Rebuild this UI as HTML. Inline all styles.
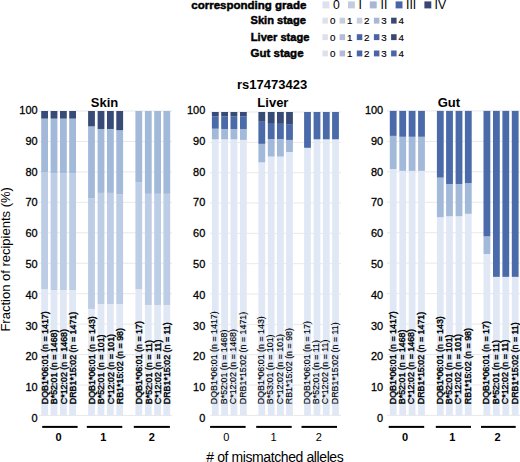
<!DOCTYPE html>
<html><head><meta charset="utf-8"><style>
html,body{margin:0;padding:0;background:#fff;}
svg{display:block;}
text{font-family:"Liberation Sans",sans-serif;fill:#000;}
.xl{font-size:9.6px;stroke:#000;stroke-width:0.4px;}
.yl{font-size:11.8px;stroke:#000;stroke-width:0.3px;}
.tt{font-size:13px;font-weight:bold;}
.gl{font-size:11px;}
.lg{font-size:11.1px;font-weight:bold;stroke:#000;stroke-width:0.45px;}
.lgn{font-size:12.2px;}
.lgd{font-size:9.8px;stroke:#000;stroke-width:0.15px;}
</style></head><body>
<svg width="520" height="462" viewBox="0 0 520 462">
<rect width="520" height="462" fill="#fff"/>
<text class="lg" x="191.3" y="9.3" style="font-size:11.5px">corresponding grade</text>
<text class="lg" x="250.5" y="24.3">Skin stage</text>
<text class="lg" x="250.8" y="40.9">Liver stage</text>
<text class="lg" x="250.5" y="56.9" style="font-size:11.5px">Gut stage</text>
<rect x="322.5" y="1.4" width="6.9" height="7" fill="#dde1eb"/>
<text class="lgn" x="333.0" y="8.9">0</text>
<rect x="348.0" y="1.4" width="6.9" height="7" fill="#c4cde0"/>
<text class="lgn" x="358.4" y="8.9">I</text>
<rect x="369.8" y="1.4" width="6.9" height="7" fill="#a9b7d5"/>
<text class="lgn" x="380.6" y="8.9">II</text>
<rect x="395.6" y="1.4" width="6.9" height="7" fill="#4b64a7"/>
<text class="lgn" x="406.0" y="8.9">III</text>
<rect x="424.4" y="1.4" width="6.9" height="7" fill="#3a4774"/>
<text class="lgn" x="434.6" y="8.9">IV</text>
<rect x="322.4" y="17.7" width="5.5" height="5.9" fill="#dde1eb"/>
<text class="lgd" x="329.9" y="24.1">0</text>
<rect x="339.6" y="17.7" width="5.5" height="5.9" fill="#c6cddd"/>
<text class="lgd" x="347.0" y="24.1">1</text>
<rect x="356.8" y="17.7" width="5.5" height="5.9" fill="#c8cfe0"/>
<text class="lgd" x="364.1" y="24.1">2</text>
<rect x="373.9" y="17.7" width="5.5" height="5.9" fill="#a9b7d5"/>
<text class="lgd" x="381.3" y="24.1">3</text>
<rect x="391.1" y="17.7" width="5.5" height="5.9" fill="#3a4774"/>
<text class="lgd" x="398.4" y="24.1">4</text>
<rect x="322.4" y="34.2" width="5.5" height="5.9" fill="#dde1eb"/>
<text class="lgd" x="329.9" y="40.6">0</text>
<rect x="339.6" y="34.2" width="5.5" height="5.9" fill="#b4bdd6"/>
<text class="lgd" x="347.0" y="40.6">1</text>
<rect x="356.8" y="34.2" width="5.5" height="5.9" fill="#4b64a7"/>
<text class="lgd" x="364.1" y="40.6">2</text>
<rect x="373.9" y="34.2" width="5.5" height="5.9" fill="#4b64a7"/>
<text class="lgd" x="381.3" y="40.6">3</text>
<rect x="391.1" y="34.2" width="5.5" height="5.9" fill="#3a4774"/>
<text class="lgd" x="398.4" y="40.6">4</text>
<rect x="322.4" y="50.5" width="5.5" height="5.9" fill="#dde1eb"/>
<text class="lgd" x="329.9" y="56.9">0</text>
<rect x="339.6" y="50.5" width="5.5" height="5.9" fill="#b0bcd9"/>
<text class="lgd" x="347.0" y="56.9">1</text>
<rect x="356.8" y="50.5" width="5.5" height="5.9" fill="#4b64a7"/>
<text class="lgd" x="364.1" y="56.9">2</text>
<rect x="373.9" y="50.5" width="5.5" height="5.9" fill="#4b64a7"/>
<text class="lgd" x="381.3" y="56.9">3</text>
<rect x="391.1" y="50.5" width="5.5" height="5.9" fill="#4b64a7"/>
<text class="lgd" x="398.4" y="56.9">4</text>
<text class="tt" x="272.1" y="88.7" text-anchor="middle">rs17473423</text>
<rect x="39" y="415.00" width="133" height="1" fill="#eae8e8"/>
<rect x="39" y="384.55" width="133" height="1" fill="#eae8e8"/>
<rect x="39" y="354.10" width="133" height="1" fill="#eae8e8"/>
<rect x="39" y="323.65" width="133" height="1" fill="#eae8e8"/>
<rect x="39" y="293.20" width="133" height="1" fill="#eae8e8"/>
<rect x="39" y="262.75" width="133" height="1" fill="#eae8e8"/>
<rect x="39" y="232.30" width="133" height="1" fill="#eae8e8"/>
<rect x="39" y="201.85" width="133" height="1" fill="#eae8e8"/>
<rect x="39" y="171.40" width="133" height="1" fill="#eae8e8"/>
<rect x="39" y="140.95" width="133" height="1" fill="#eae8e8"/>
<rect x="39" y="110.50" width="133" height="1" fill="#eae8e8"/>
<rect x="41.2" y="289.13" width="6.8" height="126.37" fill="#e1e8f5"/>
<rect x="41.2" y="172.51" width="6.8" height="116.62" fill="#bdcde5"/>
<rect x="41.2" y="118.61" width="6.8" height="53.90" fill="#a3b9da"/>
<rect x="41.2" y="111.00" width="6.8" height="7.61" fill="#384b78"/>
<rect x="50.6" y="290.05" width="6.8" height="125.45" fill="#e1e8f5"/>
<rect x="50.6" y="173.42" width="6.8" height="116.62" fill="#bdcde5"/>
<rect x="50.6" y="118.61" width="6.8" height="54.81" fill="#a3b9da"/>
<rect x="50.6" y="111.00" width="6.8" height="7.61" fill="#384b78"/>
<rect x="60.0" y="290.05" width="6.8" height="125.45" fill="#e1e8f5"/>
<rect x="60.0" y="173.42" width="6.8" height="116.62" fill="#bdcde5"/>
<rect x="60.0" y="118.61" width="6.8" height="54.81" fill="#a3b9da"/>
<rect x="60.0" y="111.00" width="6.8" height="7.61" fill="#384b78"/>
<rect x="69.2" y="290.05" width="6.8" height="125.45" fill="#e1e8f5"/>
<rect x="69.2" y="173.42" width="6.8" height="116.62" fill="#bdcde5"/>
<rect x="69.2" y="118.61" width="6.8" height="54.81" fill="#a3b9da"/>
<rect x="69.2" y="111.00" width="6.8" height="7.61" fill="#384b78"/>
<rect x="88.1" y="308.93" width="6.8" height="106.57" fill="#e1e8f5"/>
<rect x="88.1" y="198.39" width="6.8" height="110.53" fill="#bdcde5"/>
<rect x="88.1" y="126.38" width="6.8" height="72.01" fill="#a3b9da"/>
<rect x="88.1" y="111.00" width="6.8" height="15.38" fill="#384b78"/>
<rect x="97.6" y="304.05" width="6.8" height="111.45" fill="#e1e8f5"/>
<rect x="97.6" y="192.91" width="6.8" height="111.14" fill="#bdcde5"/>
<rect x="97.6" y="128.97" width="6.8" height="63.94" fill="#a3b9da"/>
<rect x="97.6" y="111.00" width="6.8" height="17.97" fill="#384b78"/>
<rect x="107.0" y="304.05" width="6.8" height="111.45" fill="#e1e8f5"/>
<rect x="107.0" y="192.91" width="6.8" height="111.14" fill="#bdcde5"/>
<rect x="107.0" y="128.97" width="6.8" height="63.94" fill="#a3b9da"/>
<rect x="107.0" y="111.00" width="6.8" height="17.97" fill="#384b78"/>
<rect x="116.3" y="304.05" width="6.8" height="111.45" fill="#e1e8f5"/>
<rect x="116.3" y="194.43" width="6.8" height="109.62" fill="#bdcde5"/>
<rect x="116.3" y="130.18" width="6.8" height="64.25" fill="#a3b9da"/>
<rect x="116.3" y="111.00" width="6.8" height="19.18" fill="#384b78"/>
<rect x="135.4" y="289.13" width="6.8" height="126.37" fill="#e1e8f5"/>
<rect x="135.4" y="182.25" width="6.8" height="106.88" fill="#bdcde5"/>
<rect x="135.4" y="111.00" width="6.8" height="71.25" fill="#a3b9da"/>
<rect x="144.9" y="304.97" width="6.8" height="110.53" fill="#e1e8f5"/>
<rect x="144.9" y="193.82" width="6.8" height="111.14" fill="#bdcde5"/>
<rect x="144.9" y="111.00" width="6.8" height="82.82" fill="#a3b9da"/>
<rect x="154.2" y="304.97" width="6.8" height="110.53" fill="#e1e8f5"/>
<rect x="154.2" y="193.82" width="6.8" height="111.14" fill="#bdcde5"/>
<rect x="154.2" y="111.00" width="6.8" height="82.82" fill="#a3b9da"/>
<rect x="163.4" y="304.97" width="6.8" height="110.53" fill="#e1e8f5"/>
<rect x="163.4" y="193.82" width="6.8" height="111.14" fill="#bdcde5"/>
<rect x="163.4" y="111.00" width="6.8" height="82.82" fill="#a3b9da"/>
<text class="xl" style="stroke-width:0.4px" transform="translate(48.05,404.2) rotate(-90) scale(0.925,1)">DQB1*06:01 (n = 1417)</text>
<text class="xl" style="stroke-width:0.4px" transform="translate(57.45,404.2) rotate(-90) scale(0.925,1)">B*52:01 (n = 1468)</text>
<text class="xl" style="stroke-width:0.4px" transform="translate(66.85,404.2) rotate(-90) scale(0.925,1)">C*12:02 (n = 1468)</text>
<text class="xl" style="stroke-width:0.4px" transform="translate(76.05,404.2) rotate(-90) scale(0.925,1)">DRB1*15:02 (n = 1471)</text>
<text class="xl" style="stroke-width:0.4px" transform="translate(94.95,404.2) rotate(-90) scale(0.925,1)">DQB1*06:01 (n = 143)</text>
<text class="xl" style="stroke-width:0.4px" transform="translate(104.45,404.2) rotate(-90) scale(0.925,1)">B*52:01 (n = 101)</text>
<text class="xl" style="stroke-width:0.4px" transform="translate(113.85,404.2) rotate(-90) scale(0.925,1)">C*12:02 (n = 101)</text>
<text class="xl" style="stroke-width:0.4px" transform="translate(123.15,404.2) rotate(-90) scale(0.925,1)">RB1*15:02 (n = 98)</text>
<text class="xl" style="stroke-width:0.4px" transform="translate(142.25,404.2) rotate(-90) scale(0.925,1)">DQB1*06:01 (n = 17)</text>
<text class="xl" style="stroke-width:0.4px" transform="translate(151.75,404.2) rotate(-90) scale(0.925,1)">B*52:01 (n = 11)</text>
<text class="xl" style="stroke-width:0.4px" transform="translate(161.05,404.2) rotate(-90) scale(0.925,1)">C*12:02 (n = 11)</text>
<text class="xl" style="stroke-width:0.4px" transform="translate(170.25,404.2) rotate(-90) scale(0.925,1)">DRB1*15:02 (n = 11)</text>
<text class="yl" transform="translate(37.6,422.10) scale(0.93,1)" text-anchor="end">0</text>
<text class="yl" transform="translate(37.6,391.28) scale(0.93,1)" text-anchor="end">10</text>
<text class="yl" transform="translate(37.6,360.45) scale(0.93,1)" text-anchor="end">20</text>
<text class="yl" transform="translate(37.6,329.62) scale(0.93,1)" text-anchor="end">30</text>
<text class="yl" transform="translate(37.6,298.80) scale(0.93,1)" text-anchor="end">40</text>
<text class="yl" transform="translate(37.6,267.98) scale(0.93,1)" text-anchor="end">50</text>
<text class="yl" transform="translate(37.6,237.15) scale(0.93,1)" text-anchor="end">60</text>
<text class="yl" transform="translate(37.6,206.32) scale(0.93,1)" text-anchor="end">70</text>
<text class="yl" transform="translate(37.6,175.50) scale(0.93,1)" text-anchor="end">80</text>
<text class="yl" transform="translate(37.6,144.67) scale(0.93,1)" text-anchor="end">90</text>
<text class="yl" transform="translate(37.6,113.85) scale(0.93,1)" text-anchor="end">100</text>
<text class="tt" x="104.6" y="107.1" text-anchor="middle">Skin</text>
<rect x="42.2" y="425.9" width="35.39999999999999" height="2" fill="#000"/>
<text class="gl" style="font-weight:bold" x="58.6" y="440.9" text-anchor="middle">0</text>
<rect x="86.8" y="425.9" width="35.5" height="2" fill="#000"/>
<text class="gl" style="font-weight:bold" x="103.4" y="440.9" text-anchor="middle">1</text>
<rect x="133.8" y="425.9" width="36.099999999999994" height="2" fill="#000"/>
<text class="gl" style="font-weight:bold" x="151.7" y="440.9" text-anchor="middle">2</text>
<rect x="210" y="414.90" width="131" height="1" fill="#eae8e8"/>
<rect x="210" y="384.56" width="131" height="1" fill="#eae8e8"/>
<rect x="210" y="354.22" width="131" height="1" fill="#eae8e8"/>
<rect x="210" y="323.88" width="131" height="1" fill="#eae8e8"/>
<rect x="210" y="293.54" width="131" height="1" fill="#eae8e8"/>
<rect x="210" y="263.20" width="131" height="1" fill="#eae8e8"/>
<rect x="210" y="232.86" width="131" height="1" fill="#eae8e8"/>
<rect x="210" y="202.52" width="131" height="1" fill="#eae8e8"/>
<rect x="210" y="172.18" width="131" height="1" fill="#eae8e8"/>
<rect x="210" y="141.84" width="131" height="1" fill="#eae8e8"/>
<rect x="210" y="111.50" width="131" height="1" fill="#eae8e8"/>
<rect x="211.9" y="139.31" width="6.8" height="276.09" fill="#e1e8f5"/>
<rect x="211.9" y="128.69" width="6.8" height="10.62" fill="#a3b9da"/>
<rect x="211.9" y="116.25" width="6.8" height="12.44" fill="#4a6aa9"/>
<rect x="211.9" y="112.00" width="6.8" height="4.25" fill="#384b78"/>
<rect x="221.2" y="139.31" width="6.8" height="276.09" fill="#e1e8f5"/>
<rect x="221.2" y="128.99" width="6.8" height="10.32" fill="#a3b9da"/>
<rect x="221.2" y="116.55" width="6.8" height="12.44" fill="#4a6aa9"/>
<rect x="221.2" y="112.00" width="6.8" height="4.55" fill="#384b78"/>
<rect x="230.5" y="139.31" width="6.8" height="276.09" fill="#e1e8f5"/>
<rect x="230.5" y="128.99" width="6.8" height="10.32" fill="#a3b9da"/>
<rect x="230.5" y="116.55" width="6.8" height="12.44" fill="#4a6aa9"/>
<rect x="230.5" y="112.00" width="6.8" height="4.55" fill="#384b78"/>
<rect x="240.0" y="139.91" width="6.8" height="275.49" fill="#e1e8f5"/>
<rect x="240.0" y="128.99" width="6.8" height="10.92" fill="#a3b9da"/>
<rect x="240.0" y="116.55" width="6.8" height="12.44" fill="#4a6aa9"/>
<rect x="240.0" y="112.00" width="6.8" height="4.55" fill="#384b78"/>
<rect x="258.4" y="162.36" width="6.8" height="253.04" fill="#e1e8f5"/>
<rect x="258.4" y="143.86" width="6.8" height="18.51" fill="#a3b9da"/>
<rect x="258.4" y="121.71" width="6.8" height="22.15" fill="#4a6aa9"/>
<rect x="258.4" y="112.00" width="6.8" height="9.71" fill="#384b78"/>
<rect x="267.8" y="156.60" width="6.8" height="258.80" fill="#e1e8f5"/>
<rect x="267.8" y="139.00" width="6.8" height="17.60" fill="#a3b9da"/>
<rect x="267.8" y="123.83" width="6.8" height="15.17" fill="#4a6aa9"/>
<rect x="267.8" y="112.00" width="6.8" height="11.83" fill="#384b78"/>
<rect x="277.0" y="156.60" width="6.8" height="258.80" fill="#e1e8f5"/>
<rect x="277.0" y="139.00" width="6.8" height="17.60" fill="#a3b9da"/>
<rect x="277.0" y="123.83" width="6.8" height="15.17" fill="#4a6aa9"/>
<rect x="277.0" y="112.00" width="6.8" height="11.83" fill="#384b78"/>
<rect x="286.1" y="152.05" width="6.8" height="263.35" fill="#e1e8f5"/>
<rect x="286.1" y="139.91" width="6.8" height="12.14" fill="#a3b9da"/>
<rect x="286.1" y="124.14" width="6.8" height="15.78" fill="#4a6aa9"/>
<rect x="286.1" y="112.00" width="6.8" height="12.14" fill="#384b78"/>
<rect x="304.1" y="147.80" width="6.8" height="267.60" fill="#e1e8f5"/>
<rect x="304.1" y="112.00" width="6.8" height="35.80" fill="#4a6aa9"/>
<rect x="313.6" y="139.31" width="6.8" height="276.09" fill="#e1e8f5"/>
<rect x="313.6" y="112.00" width="6.8" height="27.31" fill="#4a6aa9"/>
<rect x="322.9" y="139.31" width="6.8" height="276.09" fill="#e1e8f5"/>
<rect x="322.9" y="112.00" width="6.8" height="27.31" fill="#4a6aa9"/>
<rect x="332.1" y="139.31" width="6.8" height="276.09" fill="#e1e8f5"/>
<rect x="332.1" y="112.00" width="6.8" height="27.31" fill="#4a6aa9"/>
<text class="xl" style="stroke-width:0.15px" transform="translate(217.45,404.2) rotate(-90) scale(0.925,1)">DQB1*06:01 (n = 1417)</text>
<text class="xl" style="stroke-width:0.15px" transform="translate(226.75,404.2) rotate(-90) scale(0.925,1)">B*52:01 (n = 1468)</text>
<text class="xl" style="stroke-width:0.15px" transform="translate(236.05,404.2) rotate(-90) scale(0.925,1)">C*12:02 (n = 1468)</text>
<text class="xl" style="stroke-width:0.15px" transform="translate(245.55,404.2) rotate(-90) scale(0.925,1)">DRB1*15:02 (n = 1471)</text>
<text class="xl" style="stroke-width:0.15px" transform="translate(263.95,404.2) rotate(-90) scale(0.925,1)">DQB1*06:01 (n = 143)</text>
<text class="xl" style="stroke-width:0.15px" transform="translate(273.35,404.2) rotate(-90) scale(0.925,1)">B*53:01 (n = 101)</text>
<text class="xl" style="stroke-width:0.15px" transform="translate(282.55,404.2) rotate(-90) scale(0.925,1)">C*12:02 (n = 101)</text>
<text class="xl" style="stroke-width:0.15px" transform="translate(291.65,404.2) rotate(-90) scale(0.925,1)">RB1*15:02 (n = 98)</text>
<text class="xl" style="stroke-width:0.15px" transform="translate(309.65,404.2) rotate(-90) scale(0.925,1)">DQB1*06:01 (n = 17)</text>
<text class="xl" style="stroke-width:0.15px" transform="translate(319.15,404.2) rotate(-90) scale(0.925,1)">B*52:01 (n = 11)</text>
<text class="xl" style="stroke-width:0.15px" transform="translate(328.45,404.2) rotate(-90) scale(0.925,1)">C*12:02 (n = 11)</text>
<text class="xl" style="stroke-width:0.15px" transform="translate(337.65,404.2) rotate(-90) scale(0.925,1)">DRB1*15:02 (n = 11)</text>
<text class="yl" transform="translate(205.3,422.10) scale(0.93,1)" text-anchor="end">0</text>
<text class="yl" transform="translate(205.3,391.28) scale(0.93,1)" text-anchor="end">10</text>
<text class="yl" transform="translate(205.3,360.45) scale(0.93,1)" text-anchor="end">20</text>
<text class="yl" transform="translate(205.3,329.62) scale(0.93,1)" text-anchor="end">30</text>
<text class="yl" transform="translate(205.3,298.80) scale(0.93,1)" text-anchor="end">40</text>
<text class="yl" transform="translate(205.3,267.98) scale(0.93,1)" text-anchor="end">50</text>
<text class="yl" transform="translate(205.3,237.15) scale(0.93,1)" text-anchor="end">60</text>
<text class="yl" transform="translate(205.3,206.32) scale(0.93,1)" text-anchor="end">70</text>
<text class="yl" transform="translate(205.3,175.50) scale(0.93,1)" text-anchor="end">80</text>
<text class="yl" transform="translate(205.3,144.67) scale(0.93,1)" text-anchor="end">90</text>
<text class="yl" transform="translate(205.3,113.85) scale(0.93,1)" text-anchor="end">100</text>
<text class="tt" x="272.9" y="107.1" text-anchor="middle">Liver</text>
<rect x="210.1" y="425.9" width="35.5" height="2" fill="#000"/>
<text class="gl" style="font-weight:normal" x="226.4" y="440.9" text-anchor="middle">0</text>
<rect x="256.2" y="425.9" width="35.5" height="2" fill="#000"/>
<text class="gl" style="font-weight:normal" x="273.5" y="440.9" text-anchor="middle">1</text>
<rect x="301.5" y="425.9" width="35.5" height="2" fill="#000"/>
<text class="gl" style="font-weight:normal" x="318.8" y="440.9" text-anchor="middle">2</text>
<rect x="387" y="414.90" width="133" height="1" fill="#eae8e8"/>
<rect x="387" y="384.45" width="133" height="1" fill="#eae8e8"/>
<rect x="387" y="354.00" width="133" height="1" fill="#eae8e8"/>
<rect x="387" y="323.55" width="133" height="1" fill="#eae8e8"/>
<rect x="387" y="293.10" width="133" height="1" fill="#eae8e8"/>
<rect x="387" y="262.65" width="133" height="1" fill="#eae8e8"/>
<rect x="387" y="232.20" width="133" height="1" fill="#eae8e8"/>
<rect x="387" y="201.75" width="133" height="1" fill="#eae8e8"/>
<rect x="387" y="171.30" width="133" height="1" fill="#eae8e8"/>
<rect x="387" y="140.85" width="133" height="1" fill="#eae8e8"/>
<rect x="387" y="110.40" width="133" height="1" fill="#eae8e8"/>
<rect x="389.8" y="169.06" width="6.8" height="246.34" fill="#e1e8f5"/>
<rect x="389.8" y="135.87" width="6.8" height="33.19" fill="#a3b9da"/>
<rect x="389.8" y="110.90" width="6.8" height="24.97" fill="#4a6aa9"/>
<rect x="399.3" y="170.89" width="6.8" height="244.51" fill="#e1e8f5"/>
<rect x="399.3" y="136.78" width="6.8" height="34.10" fill="#a3b9da"/>
<rect x="399.3" y="110.90" width="6.8" height="25.88" fill="#4a6aa9"/>
<rect x="408.7" y="170.89" width="6.8" height="244.51" fill="#e1e8f5"/>
<rect x="408.7" y="136.78" width="6.8" height="34.10" fill="#a3b9da"/>
<rect x="408.7" y="110.90" width="6.8" height="25.88" fill="#4a6aa9"/>
<rect x="418.1" y="170.89" width="6.8" height="244.51" fill="#e1e8f5"/>
<rect x="418.1" y="136.78" width="6.8" height="34.10" fill="#a3b9da"/>
<rect x="418.1" y="110.90" width="6.8" height="25.88" fill="#4a6aa9"/>
<rect x="436.9" y="217.17" width="6.8" height="198.23" fill="#e1e8f5"/>
<rect x="436.9" y="177.59" width="6.8" height="39.59" fill="#a3b9da"/>
<rect x="436.9" y="110.90" width="6.8" height="66.69" fill="#4a6aa9"/>
<rect x="446.1" y="216.26" width="6.8" height="199.14" fill="#e1e8f5"/>
<rect x="446.1" y="183.98" width="6.8" height="32.28" fill="#a3b9da"/>
<rect x="446.1" y="110.90" width="6.8" height="73.08" fill="#4a6aa9"/>
<rect x="455.6" y="216.26" width="6.8" height="199.14" fill="#e1e8f5"/>
<rect x="455.6" y="183.98" width="6.8" height="32.28" fill="#a3b9da"/>
<rect x="455.6" y="110.90" width="6.8" height="73.08" fill="#4a6aa9"/>
<rect x="464.9" y="213.82" width="6.8" height="201.58" fill="#e1e8f5"/>
<rect x="464.9" y="183.07" width="6.8" height="30.75" fill="#a3b9da"/>
<rect x="464.9" y="110.90" width="6.8" height="72.17" fill="#4a6aa9"/>
<rect x="483.5" y="254.01" width="6.8" height="161.38" fill="#e1e8f5"/>
<rect x="483.5" y="236.35" width="6.8" height="17.66" fill="#a3b9da"/>
<rect x="483.5" y="110.90" width="6.8" height="125.45" fill="#4a6aa9"/>
<rect x="493.0" y="276.85" width="6.8" height="138.55" fill="#e1e8f5"/>
<rect x="493.0" y="110.90" width="6.8" height="165.95" fill="#4a6aa9"/>
<rect x="502.4" y="276.85" width="6.8" height="138.55" fill="#e1e8f5"/>
<rect x="502.4" y="110.90" width="6.8" height="165.95" fill="#4a6aa9"/>
<rect x="511.8" y="276.85" width="6.8" height="138.55" fill="#e1e8f5"/>
<rect x="511.8" y="110.90" width="6.8" height="165.95" fill="#4a6aa9"/>
<text class="xl" style="stroke-width:0.4px" transform="translate(395.55,404.2) rotate(-90) scale(0.925,1)">DQB1*06:01 (n = 1417)</text>
<text class="xl" style="stroke-width:0.4px" transform="translate(405.05,404.2) rotate(-90) scale(0.925,1)">B*52:01 (n = 1468)</text>
<text class="xl" style="stroke-width:0.4px" transform="translate(414.45,404.2) rotate(-90) scale(0.925,1)">C*12:02 (n = 1468)</text>
<text class="xl" style="stroke-width:0.4px" transform="translate(423.85,404.2) rotate(-90) scale(0.925,1)">DRB1*15:02 (n = 1471)</text>
<text class="xl" style="stroke-width:0.4px" transform="translate(442.65,404.2) rotate(-90) scale(0.925,1)">DQB1*06:01 (n = 143)</text>
<text class="xl" style="stroke-width:0.4px" transform="translate(451.85,404.2) rotate(-90) scale(0.925,1)">B*52:01 (n = 101)</text>
<text class="xl" style="stroke-width:0.4px" transform="translate(461.35,404.2) rotate(-90) scale(0.925,1)">C*12:02 (n = 101)</text>
<text class="xl" style="stroke-width:0.4px" transform="translate(470.65,404.2) rotate(-90) scale(0.925,1)">RB1*15:02 (n = 98)</text>
<text class="xl" style="stroke-width:0.4px" transform="translate(489.25,404.2) rotate(-90) scale(0.925,1)">DQB1*06:01 (n = 17)</text>
<text class="xl" style="stroke-width:0.4px" transform="translate(498.75,404.2) rotate(-90) scale(0.925,1)">B*52:01 (n = 11)</text>
<text class="xl" style="stroke-width:0.4px" transform="translate(508.15,404.2) rotate(-90) scale(0.925,1)">C*12:02 (n = 11)</text>
<text class="xl" style="stroke-width:0.4px" transform="translate(517.55,404.2) rotate(-90) scale(0.925,1)">DRB1*15:02 (n = 11)</text>
<text class="yl" transform="translate(383.2,422.10) scale(0.93,1)" text-anchor="end">0</text>
<text class="yl" transform="translate(383.2,391.28) scale(0.93,1)" text-anchor="end">10</text>
<text class="yl" transform="translate(383.2,360.45) scale(0.93,1)" text-anchor="end">20</text>
<text class="yl" transform="translate(383.2,329.62) scale(0.93,1)" text-anchor="end">30</text>
<text class="yl" transform="translate(383.2,298.80) scale(0.93,1)" text-anchor="end">40</text>
<text class="yl" transform="translate(383.2,267.98) scale(0.93,1)" text-anchor="end">50</text>
<text class="yl" transform="translate(383.2,237.15) scale(0.93,1)" text-anchor="end">60</text>
<text class="yl" transform="translate(383.2,206.32) scale(0.93,1)" text-anchor="end">70</text>
<text class="yl" transform="translate(383.2,175.50) scale(0.93,1)" text-anchor="end">80</text>
<text class="yl" transform="translate(383.2,144.67) scale(0.93,1)" text-anchor="end">90</text>
<text class="yl" transform="translate(383.2,113.85) scale(0.93,1)" text-anchor="end">100</text>
<text class="tt" x="448.9" y="107.1" text-anchor="middle">Gut</text>
<rect x="388.7" y="425.9" width="35.5" height="2" fill="#000"/>
<text class="gl" style="font-weight:bold" x="405.0" y="440.9" text-anchor="middle">0</text>
<rect x="435.8" y="425.9" width="35.19999999999999" height="2" fill="#000"/>
<text class="gl" style="font-weight:bold" x="452.2" y="440.9" text-anchor="middle">1</text>
<rect x="481.0" y="425.9" width="34.700000000000045" height="2" fill="#000"/>
<text class="gl" style="font-weight:bold" x="497.5" y="440.9" text-anchor="middle">2</text>
<text style="font-size:13px" transform="translate(9.8,331.6) rotate(-90)">Fraction of recipients (%)</text>
<text style="font-size:14px;letter-spacing:-0.4px" x="274.8" y="462" text-anchor="middle"># of mismatched alleles</text>
</svg>
</body></html>
